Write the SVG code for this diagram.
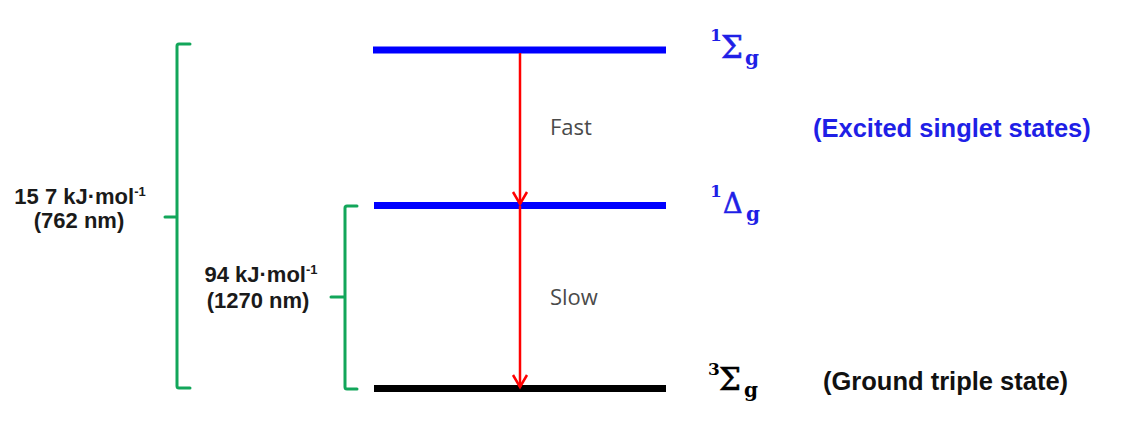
<svg xmlns="http://www.w3.org/2000/svg" width="1121" height="430" viewBox="0 0 1121 430">
<style>
.lvl{stroke-width:7;fill:none}
.br{stroke:#12a65a;stroke-width:3;fill:none;stroke-linejoin:round;stroke-linecap:round}
.arr{stroke:#ff0000;stroke-width:2.5;fill:none}
.lbl{font-family:"Liberation Sans",Arial,sans-serif;font-weight:bold;font-size:22px;fill:#1a1a1a}
.sup{font-size:13px}
.big{font-family:"Liberation Sans",Arial,sans-serif;font-weight:bold;font-size:25.5px}
.rate{font-family:"Open Sans",sans-serif;font-size:22px;fill:#4a4a4a}
.sym{font-family:"DejaVu Serif",serif;font-weight:bold;fill:#1f1fe6}
.gk{font-weight:normal;stroke-width:0.6}
</style>
<defs>
<marker id="chev" viewBox="-15 -10 18 20" markerWidth="18" markerHeight="20" refX="0" refY="0" orient="auto" markerUnits="userSpaceOnUse">
<path d="M-12,-7 L0,0 L-12,7" stroke="#ff0000" stroke-width="2.5" fill="none"/>
</marker>
</defs>
<rect width="1121" height="430" fill="#ffffff"/>

<g id="level-1Sigma">
<line class="lvl" x1="373" y1="50" x2="666" y2="50" stroke="#0000ff"/>
<text class="sym"><tspan x="710" y="41" font-size="17">1</tspan><tspan class="gk" x="721" y="58" font-size="31" stroke="#1f1fe6">Σ</tspan><tspan x="745" y="65" font-size="20">g</tspan></text>
</g>

<g id="level-1Delta">
<line class="lvl" x1="374" y1="205.5" x2="666" y2="205.5" stroke="#0000ff"/>
<text class="sym"><tspan x="710" y="197" font-size="17">1</tspan><tspan class="gk" x="723" y="213" font-size="27" stroke="#1f1fe6">Δ</tspan><tspan x="746" y="221" font-size="20">g</tspan></text>
</g>

<g id="level-3Sigma">
<line class="lvl" x1="374" y1="388.5" x2="666" y2="388.5" stroke="#000000"/>
<text class="sym" style="fill:#000"><tspan x="708" y="375" font-size="17">3</tspan><tspan class="gk" x="719" y="390" font-size="31" stroke="#000">Σ</tspan><tspan x="744" y="397" font-size="20">g</tspan></text>
</g>

<g id="label-excited">
<text class="big" x="813" y="137" fill="#1f1fe6">(Excited singlet states)</text>
</g>
<g id="label-ground">
<text class="big" x="823" y="390" fill="#111111">(Ground triple state)</text>
</g>

<g id="bracket-157">
<path class="br" d="M190,44 L179,44 Q177,44 177,46 L177,386 Q177,388 179,388 L190,388 M177,217 L165,217"/>
<text class="lbl" text-anchor="middle"><tspan x="80" y="204">15 7 kJ·mol<tspan class="sup" dy="-8">-1</tspan></tspan><tspan x="79" y="228">(762 nm)</tspan></text>
</g>

<g id="bracket-94">
<path class="br" d="M357,206 L347,206 Q345,206 345,208 L345,387 Q345,389 347,389 L357,389 M345,297 L331,297"/>
<text class="lbl" text-anchor="middle"><tspan x="261" y="282">94 kJ·mol<tspan class="sup" dy="-8">-1</tspan></tspan><tspan x="258" y="308">(1270 nm)</tspan></text>
</g>

<g id="connectors">
<line class="arr" x1="520" y1="53" x2="520" y2="204" marker-end="url(#chev)"/>
<line class="arr" x1="520" y1="206" x2="520" y2="387" marker-end="url(#chev)"/>
<text class="rate" x="550" y="135">Fast</text>
<text class="rate" x="550" y="305">Slow</text>
</g>
</svg>
